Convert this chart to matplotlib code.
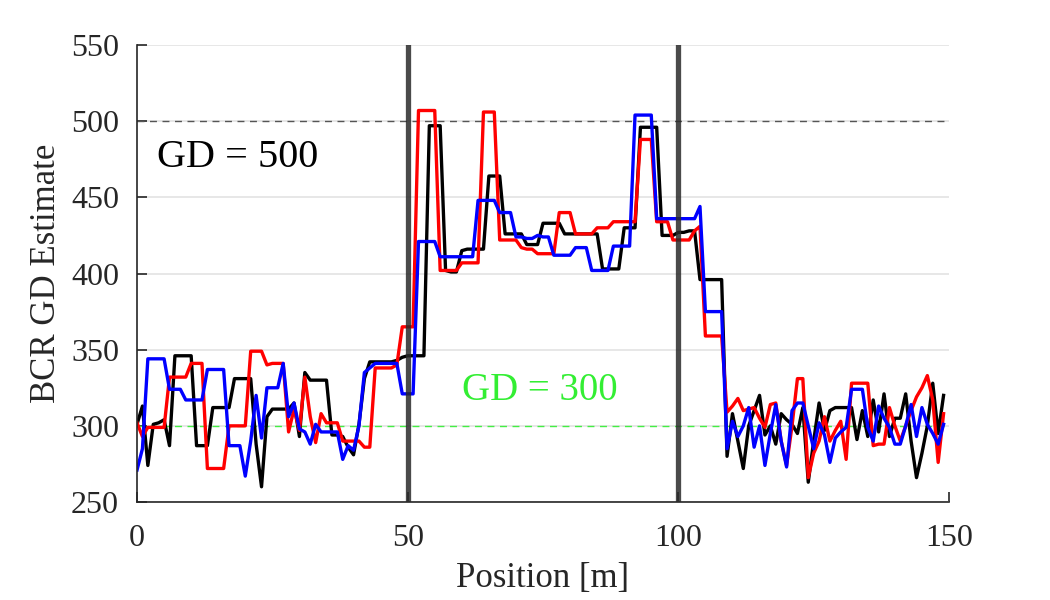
import numpy as np
import matplotlib
matplotlib.use("Agg")
import matplotlib.pyplot as plt

# -----------------------------------------------------------------------------
# DATA (1 m spacing)
# -----------------------------------------------------------------------------

position = np.arange(0, 150)

gd_black = [
    301, 313, 274, 301, 302, 304, 287, 346, 346, 346,
    346, 287, 287, 287, 312, 312, 312, 312, 331, 331,
    331, 331, 288, 260, 306, 311, 311, 311, 311, 315,
    293, 335, 330, 330, 330, 330, 294, 294, 293, 286,
    281, 301, 331, 342, 342, 342, 342, 342, 343, 345,
    346, 346, 346, 346, 497, 497, 497, 402, 401, 401,
    415, 416, 416, 416, 416, 464, 464, 464, 426, 426,
    426, 426, 419, 419, 419, 433, 433, 433, 433, 426,
    426, 426, 426, 426, 426, 426, 403, 403, 403, 403,
    430, 430, 430, 496, 496, 496, 496, 425, 425, 425,
    427, 427, 428, 428, 396, 396, 396, 396, 396, 280,
    308, 290, 272, 300, 310, 320, 294, 300, 288, 308,
    304, 301, 295, 312, 263, 290, 315, 297, 310, 312,
    312, 312, 312, 291, 310, 293, 317, 296, 321, 293,
    305, 305, 321, 290, 266, 282, 300, 328, 295, 320,
]

gd_red = [
    302, 293, 299, 299, 299, 299, 332, 332, 332, 332,
    341, 341, 341, 272, 272, 272, 272, 300, 300, 300,
    300, 349, 349, 349, 340, 341, 341, 341, 296, 311,
    297, 332, 306, 289, 308, 302, 302, 302, 290, 290,
    290, 290, 286, 286, 338, 338, 338, 338, 340, 365,
    365, 365, 507, 507, 507, 507, 402, 402, 402, 402,
    407, 407, 407, 407, 506, 506, 506, 422, 422, 422,
    422, 417, 416, 416, 413, 413, 413, 413, 440, 440,
    440, 426, 426, 426, 426, 430, 430, 430, 434, 434,
    434, 434, 434, 488, 488, 488, 434, 434, 434, 422,
    422, 422, 422, 428, 431, 359, 359, 359, 359, 309,
    313, 318, 310, 311, 312, 305, 299, 314, 315, 290,
    274, 300, 331, 331, 266, 282, 290, 306, 290, 297,
    303, 278, 328, 328, 328, 328, 287, 288, 288, 312,
    300, 290, 300, 310, 319, 325, 333, 317, 276, 308,
]

gd_blue = [
    271, 285, 344, 344, 344, 344, 324, 324, 324, 317,
    317, 317, 317, 337, 337, 337, 337, 287, 287, 287,
    267, 290, 320, 292, 325, 325, 325, 341, 306, 315,
    298, 296, 288, 301, 296, 296, 296, 296, 278, 287,
    284, 300, 335, 338, 341, 341, 341, 341, 341, 321,
    321, 321, 421, 421, 421, 421, 411, 411, 411, 411,
    411, 411, 411, 448, 448, 448, 448, 440, 440, 440,
    424, 424, 423, 423, 425, 424, 424, 412, 412, 412,
    412, 417, 417, 417, 402, 402, 402, 402, 418, 418,
    418, 418, 504, 504, 504, 504, 436, 436, 436, 436,
    436, 436, 436, 436, 444, 375, 375, 375, 375, 285,
    303, 293, 300, 312, 286, 300, 274, 295, 314, 290,
    273, 310, 315, 315, 300, 285, 302, 294, 276, 292,
    296, 299, 324, 324, 324, 299, 290, 313, 305, 299,
    288, 288, 300, 314, 293, 312, 301, 295, 288, 301,
]

boundaries = [50, 100]
gd_true_high = 500
gd_true_low = 300

# -----------------------------------------------------------------------------
# PLOT
# -----------------------------------------------------------------------------

plt.rcParams["font.family"] = ["Liberation Serif", "DejaVu Serif"]

fig = plt.figure(figsize=(10.5, 6), dpi=100)
ax = fig.add_axes([0.1305, 0.1633, 0.7733, 0.7617])

ax.grid(axis="y", color="#e3e3e3", linewidth=1.2)
ax.set_axisbelow(True)

ax.axhline(gd_true_high, color="#555555", linestyle=(0, (5, 4)), linewidth=1.0)
ax.axhline(gd_true_low, color="#44ee44", linestyle=(0, (5, 4)), linewidth=1.0)

ax.plot(position, gd_black, color="black", linewidth=2.4)
ax.plot(position, gd_red, color="red", linewidth=2.4)
ax.plot(position, gd_blue, color="blue", linewidth=2.4)

for xb in boundaries:
    ax.axvline(xb, color="#2a2a2a", alpha=0.85, linewidth=3.8, zorder=5)

ax.text(3.7, 476, "GD = 500", fontsize=29, color="black", va="center", ha="left")
ax.text(74.5, 323.5, "GD = 300", fontsize=28, color="#33ee33", va="center", ha="center")

ax.set_xlim(0, 150)
ax.set_ylim(250, 550)
ax.set_xticks([0, 50, 100, 150])
ax.set_yticks(np.arange(250, 551, 50))
ax.tick_params(direction="in", length=7, width=1.2, labelsize=23, colors="#262626")
ax.tick_params(axis="x", pad=16)
ax.tick_params(axis="y", pad=13)
for side in ["top", "right"]:
    ax.spines[side].set_visible(False)
for side in ["left", "bottom"]:
    ax.spines[side].set_color("#262626")
    ax.spines[side].set_linewidth(1.2)

ax.set_xlabel("Position [m]", fontsize=25, color="#262626", labelpad=6)
ax.set_ylabel("BCR GD Estimate", fontsize=25, color="#262626", labelpad=6)

fig.savefig("out.png", dpi=100)
